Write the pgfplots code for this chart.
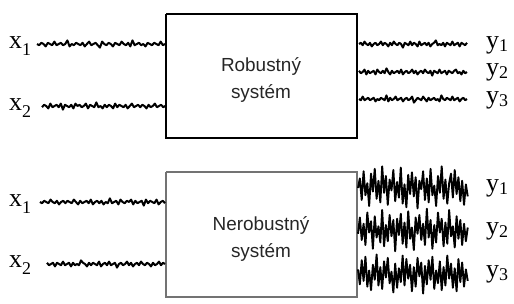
\documentclass[border=0pt]{standalone}
\usepackage{pgfplots}
\usepackage{pgfplotstable}
\pgfplotsset{compat=1.18}
\usepackage{fontspec}
\setmainfont{Liberation Sans}
\newfontfamily\serif{Liberation Serif}
\pgfplotstableread{
i a b c d h k m
0 0 1 0 -1 0 3 -4
1 1 -1 -1 1 -8 -10 9
2 -1 0 1 0 10 8 -12
3 0 2 -2 -2 -14 -5 6
4 2 -2 0 2 6 12 -15
5 -1 1 1 -1 -4 -14 11
6 0 0 -1 1 15 2 -3
7 1 -1 2 0 -12 -7 14
8 -2 1 0 -1 3 15 -8
9 1 -2 -1 2 -16 -11 5
10 0 3 1 -2 9 6 -17
11 -1 -1 0 0 -6 -3 10
12 1 0 -2 1 12 10 -6
13 0 1 1 -1 -18 -16 13
14 -3 -1 -1 1 4 13 -11
15 2 2 0 -3 -10 -4 3
16 0 -2 2 0 14 9 -14
17 1 0 -1 2 -7 -12 8
18 -1 -1 1 -1 2 5 -2
19 0 1 -2 1 -15 -8 16
20 1 0 0 0 11 17 -9
21 -1 -2 1 -1 -5 -9 12
22 2 2 -1 1 8 4 -5
23 0 -1 0 -2 -17 -13 7
24 -2 0 3 2 13 11 -16
25 1 1 -1 0 -3 -6 10
26 0 -3 0 -1 16 14 -13
27 -1 1 1 1 -11 -15 4
28 1 0 -2 0 5 7 -8
29 3 2 1 -2 -13 -2 15
30 -2 -1 -1 1 7 16 -6
31 0 1 0 -1 -9 -10 11
32 1 -1 2 2 17 3 -14
33 -1 0 -2 0 -6 -12 2
34 0 2 1 -1 1 8 -10
35 2 -2 0 1 -14 -5 17
36 -1 1 -1 -2 10 12 -7
37 0 -1 1 0 -8 -17 9
38 1 0 -1 1 12 6 -12
39 -2 1 2 -1 -16 -8 5
40 0 -1 0 3 6 15 -15
41 1 2 -1 -1 -2 -4 13
42 -1 0 -3 0 15 10 -3
43 2 -2 1 1 -10 -14 8
44 -3 1 0 -2 4 2 -11
45 1 0 1 1 -18 -9 14
46 0 -1 -1 0 9 13 -6
47 -1 1 2 -1 -7 -6 10
48 1 -1 -1 2 13 11 -16
49 0 0 0 -1 -4 -16 4
50 2 2 1 0 -12 5 -9
51 -1 -1 -2 1 8 -3 12
52 0 1 1 -1 -15 14 -5
53 1 0 0 -2 5 -11 15
54 -1 -2 -1 1 -9 7 -13
55 0 1 2 0 11 -8 7
56 1 0 -1 2 -6 12 -10
57 -2 -1 0 -1 14 -5 11
58 1 1 1 1 -3 9 -4
59 0 0 -1 0 7 -2 6
}\data
\newcommand{\xl}[1]{{\serif\fontsize{26}{26}\selectfont x\raisebox{-0.28em}{\fontsize{18}{18}\selectfont #1}}}
\newcommand{\yl}[1]{{\serif\fontsize{26}{26}\selectfont y\raisebox{-0.15em}{\fontsize{18}{18}\selectfont #1}}}
\begin{document}
\begin{tikzpicture}
\begin{axis}[
  scale only axis, width=514bp, height=304bp,
  xmin=0, xmax=514, ymin=0, ymax=304, y dir=reverse,
  hide axis, clip=false,
  sig/.style={black, line width=2bp, line join=round},
  big/.style={black, line width=1.9bp, line join=round},
]
\path (rel axis cs:0,0) rectangle (rel axis cs:1,1);
% boxes
\addplot[black, line width=1.5bp] coordinates {(166,14) (357,14) (357,138) (166,138) (166,14)};
\addplot[black!55, line width=1.3bp] coordinates {(166,172) (357,172) (357,297) (166,297) (166,172)};
% top inputs
\addplot[sig] table[x expr=37+\thisrow{i}*2.17, y expr=44+1.2*\thisrow{a}] {\data};
\addplot[sig] table[x expr=42+\thisrow{i}*2.09, y expr=106+1.2*\thisrow{b}] {\data};
% top outputs
\addplot[sig] table[x expr=359+\thisrow{i}*1.83, y expr=44+1.2*\thisrow{c}] {\data};
\addplot[sig] table[x expr=359+\thisrow{i}*1.83, y expr=72+1.2*\thisrow{d}] {\data};
\addplot[sig] table[x expr=467-\thisrow{i}*1.83, y expr=99+1.2*\thisrow{a}] {\data};
% bottom inputs
\addplot[sig] table[x expr=165-\thisrow{i}*2.12, y expr=202+1.2*\thisrow{b}] {\data};
\addplot[sig] table[x expr=165-\thisrow{i}*2.0, y expr=264+1.2*\thisrow{c}] {\data};
% bottom outputs
\addplot[big] table[x expr=358+\thisrow{i}*1.86, y expr=188+1.2*\thisrow{h}] {\data};
\addplot[big] table[x expr=358+\thisrow{i}*1.86, y expr=230+1.25*\thisrow{k}] {\data};
\addplot[big] table[x expr=358+\thisrow{i}*1.86, y expr=274+1.15*\thisrow{m}] {\data};
% texts
\node[align=center, font=\fontsize{19}{27}\selectfont, text=black!85] at (axis cs:261,80) {Robustný\\systém};
\node[align=center, font=\fontsize{19}{27}\selectfont, text=black!85] at (axis cs:261,239) {Nerobustný\\systém};
\node[anchor=base west, inner sep=0] at (axis cs:9,48) {\xl{1}};
\node[anchor=base west, inner sep=0] at (axis cs:9,110) {\xl{2}};
\node[anchor=base west, inner sep=0] at (axis cs:9,206) {\xl{1}};
\node[anchor=base west, inner sep=0] at (axis cs:9,267) {\xl{2}};
\node[anchor=base west, inner sep=0] at (axis cs:486,48) {\yl{1}};
\node[anchor=base west, inner sep=0] at (axis cs:486,75) {\yl{2}};
\node[anchor=base west, inner sep=0] at (axis cs:486,103) {\yl{3}};
\node[anchor=base west, inner sep=0] at (axis cs:486,191) {\yl{1}};
\node[anchor=base west, inner sep=0] at (axis cs:486,234) {\yl{2}};
\node[anchor=base west, inner sep=0] at (axis cs:486,277) {\yl{3}};
\end{axis}
\end{tikzpicture}
\end{document}
